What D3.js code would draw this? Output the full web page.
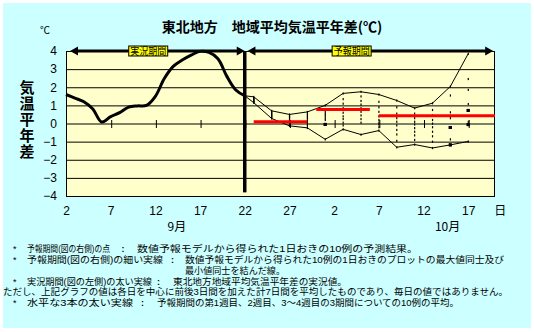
<!DOCTYPE html>
<html><head><meta charset="utf-8">
<script src="https://cdn.jsdelivr.net/npm/d3@7/dist/d3.min.js"></script>
<style>
html,body{margin:0;padding:0;background:#fff;}
svg{display:block;}
text{font-family:"Noto Sans CJK JP","Noto Sans",sans-serif;fill:#000;}
.note{font-family:"Liberation Sans","Noto Sans CJK JP",sans-serif;}
</style></head>
<body>
<script>
// ---------------- DATA ----------------
const title = "東北地方　地域平均気温平年差(℃)";
const yTitle = "気温平年差";
const yTicks = [4,3,2,1,0,-1,-2,-3,-4];
const dayTickIdx = [0,5,10,15,20,25,30,35,40,45];           // days since Sep 2
const dayLabels = ["2","7","12","17","22","27","2","7","12","17"];
const monthLabels = ["9月","10月"];
const obsDays = [0,1,2,3,4,5,6,7,8,9,10,11,12,13,14,15,16,17,18,19,20];
const obsValues = [1.6,1.4,1.2,0.8,0.08,0.38,0.6,0.9,0.97,1.0,1.5,2.48,3.15,3.5,3.77,3.98,3.92,3.57,2.6,1.85,1.53];
const fcDays = [21,23,25,27,29,31,33,35,37,39,41,43,45];
const fcMax = [1.47,0.7,0.5,0.64,1.0,1.66,1.75,1.6,1.27,0.85,1.12,2.04,3.85];
const fcMin = [1.15,0.28,-0.13,-0.24,-0.87,-0.32,-0.61,-0.39,-1.31,-1.16,-1.35,-1.18,-0.99];
const fcMembers = [
  [1.47,1.42,1.38,1.34,1.3,1.27,1.23,1.2,1.17,1.15],
  [0.7,0.64,0.6,0.55,0.5,0.46,0.42,0.37,0.32,0.28],
  [0.5,0.43,0.36,0.3,0.22,0.15,0.08,0.0,-0.06,-0.13],
  [0.64,0.55,0.46,0.37,0.28,0.18,0.08,-0.02,-0.12,-0.24],
  [1.0,0.72,0.62,0.52,0.42,0.3,0.2,-0.05,-0.05,-0.87],
  [1.66,1.35,1.1,0.85,0.6,0.4,0.25,0.05,-0.1,-0.32],
  [1.75,1.5,1.25,1.05,0.85,0.65,0.45,0.25,0.05,-0.61],
  [1.6,1.2,0.9,0.65,0.4,0.2,0.05,-0.05,-0.2,-0.39],
  [1.27,0.9,0.55,0.3,0.1,-0.1,-0.35,-0.6,-0.95,-1.31],
  [0.85,0.55,0.3,0.1,-0.05,-0.25,-0.45,-0.65,-0.9,-1.16],
  [1.12,0.75,0.45,0.2,0.0,-0.2,-0.45,-0.7,-1.0,-1.35],
  [2.04,1.55,0.62,0.3,-0.22,-0.22,-0.22,-0.87,-1.18,-1.18],
  [3.85,2.46,1.86,1.08,0.72,0.72,0.1,-0.06,-0.06,-0.99]
];
const weekStart = [21,28,35];
const weekEnd = [27,34,48];
const weekMean = [0.09,0.77,0.43];
const periodLabels = ["実況期間","予報期間"];
const notes = [
  ["*","予報期間(図の右側)の点",":","数値予報モデルから得られた1日おきの10例の予測結果。"],
  ["*","予報期間(図の右側)の細い実線",":","数値予報モデルから得られた10例の1日おきのプロットの最大値同士及び"],
  ["","","","最小値同士を結んだ線。"],
  ["*","実況期間(図の左側)の太い実線",":","東北地方地域平均気温平年差の実況値。"],
  ["","ただし、上記グラフの値は各日を中心に前後3日間を加えた計7日間を平均したものであり、毎日の値ではありません。","",""],
  ["*","水平な3本の太い実線",":","予報期間の第1週目、2週目、3～4週目の3期間についての10例の平均。"]
];

// ---------------- LAYOUT ----------------
const W = 534, H = 332;
const svg = d3.select("body").append("svg").attr("width", W).attr("height", H);
svg.append("rect").attr("x",3).attr("y",3).attr("width",528).attr("height",325).attr("fill","#CCFFFF");

const x = d3.scaleLinear().domain([0,48]).range([66,495]);
const y = d3.scaleLinear().domain([-4,4]).range([196,51]);

// plot area
svg.append("rect").attr("x",x(0)).attr("y",y(4)).attr("width",x(48)-x(0)).attr("height",y(-4)-y(4))
  .attr("fill","#FFFFCC");

// gridlines
svg.append("g").selectAll("line").data(yTicks).join("line")
  .attr("x1",x(0)).attr("x2",x(48)).attr("y1",d=>y(d)+0.5).attr("y2",d=>y(d)+0.5)
  .attr("stroke","#000").attr("stroke-width",1);
svg.append("rect").attr("x",x(0)+0.5).attr("y",y(4)+0.5).attr("width",x(48)-x(0)-1).attr("height",y(-4)-y(4))
  .attr("fill","none").attr("stroke","#000").attr("stroke-width",1);

// y tick labels
const yAxis = d3.axisLeft(y).tickValues(yTicks).tickSize(0).tickPadding(9).tickFormat(d3.format("d"));
const gy = svg.append("g").attr("transform",`translate(${x(0)},0)`).call(yAxis);
gy.select(".domain").remove();
gy.selectAll("text").style("font-size","12px").style("font-family","Liberation Sans, Arial, sans-serif");

// tick marks crossing the zero line
const tickAxis = d3.axisBottom(x).tickValues(dayTickIdx.slice(1)).tickSizeInner(8).tickSizeOuter(0).tickFormat("");
const gt = svg.append("g").attr("transform",`translate(0.5,${y(0)-3.5})`).call(tickAxis);
gt.select(".domain").remove();
gt.selectAll("line").attr("stroke","#000");

// x labels
const xAxis = d3.axisBottom(x).tickValues(dayTickIdx).tickSize(0).tickPadding(3).tickFormat((d,i)=>dayLabels[i]);
const gx = svg.append("g").attr("transform",`translate(0,203)`).call(xAxis);
gx.select(".domain").remove();
gx.selectAll("text").style("font-size","12px").style("font-family","Liberation Sans, Arial, sans-serif");
svg.append("text").attr("x",x(48.6)).attr("y",215).attr("text-anchor","middle").style("font-size","12px").text("日");
svg.selectAll(".month").data(monthLabels).join("text").attr("class","month")
  .attr("x",(d,i)=>x([12.4,42.7][i])).attr("y",230.5).attr("text-anchor","middle")
  .style("font-size","12px").text(d=>d);

// member dots
const counts = fcMembers.map(arr => d3.rollup(arr, v=>v.length, v=>v));
const dots = [];
fcMembers.forEach((arr,i)=>arr.forEach(v=>dots.push({d:fcDays[i], v, big: counts[i].get(v)>1})));
svg.append("g").selectAll("rect").data(dots).join("rect")
  .attr("x",p=>x(p.d)-(p.big?1.5:0.5)).attr("y",p=>y(p.v)-(p.big?1.5:1))
  .attr("width",p=>p.big?3:1.2).attr("height",p=>p.big?3:2.2).attr("fill","#000");

// thin max/min lines (start from last observation)
const last = obsValues[obsValues.length-1], lastDay = obsDays[obsDays.length-1];
const lineThin = d3.line().x(p=>x(p[0])).y(p=>y(p[1]));
[fcMax, fcMin].forEach(series=>{
  const pts = [[lastDay,last]].concat(fcDays.map((d,i)=>[d,series[i]]));
  svg.append("path").attr("d",lineThin(pts)).attr("fill","none").attr("stroke","#000").attr("stroke-width",1);
});

// weekly means
svg.append("g").selectAll("line").data(weekMean).join("line")
  .attr("x1",(d,i)=>x(weekStart[i])).attr("x2",(d,i)=>x(weekEnd[i]))
  .attr("y1",d=>y(d)).attr("y2",d=>y(d)).attr("stroke","#FF0000").attr("stroke-width",3);

// observed curve
const lineObs = d3.line().x((d,i)=>x(obsDays[i])).y(d=>y(d)).curve(d3.curveCatmullRom.alpha(0.5));
svg.append("path").attr("d",lineObs(obsValues)).attr("fill","none").attr("stroke","#000")
  .attr("stroke-width",3).attr("stroke-linejoin","round");

// boundary line
svg.append("line").attr("x1",x(20)).attr("x2",x(20)).attr("y1",y(4)).attr("y2",y(-3.8))
  .attr("stroke","#000").attr("stroke-width",3.5);

// period arrows
function arrow(a,b){
  const g = svg.append("g");
  const yy = y(4);
  g.append("line").attr("x1",x(a)+6).attr("x2",x(b)-6).attr("y1",yy).attr("y2",yy).attr("stroke","#000").attr("stroke-width",3);
  g.append("path").attr("d",`M${x(a)},${yy} l8,-4.5 l0,9 Z`).attr("fill","#000");
  g.append("path").attr("d",`M${x(b)},${yy} l-8,-4.5 l0,9 Z`).attr("fill","#000");
}
arrow(0.45,20);
arrow(20.3,47.8);
const boxes = svg.selectAll(".pbox").data(periodLabels).join("g").attr("class","pbox")
  .attr("transform",(d,i)=>`translate(${x([9.2,31.96][i])},${y(4)})`);
boxes.append("rect").attr("x",-19.5).attr("y",-5).attr("width",39).attr("height",10)
  .attr("fill","#FFFF00").attr("stroke","#000").attr("stroke-width",1);
boxes.append("text").attr("x",0).attr("y",3.8).attr("text-anchor","middle").style("font-size","10px")
  .attr("textLength",36).attr("lengthAdjust","spacingAndGlyphs").text(d=>d);

// titles
svg.append("text").attr("x",272).attr("y",32).attr("text-anchor","middle")
  .style("font-size","14px").style("font-weight","bold").text(title);
svg.append("text").attr("x",45).attr("y",34).attr("text-anchor","middle").style("font-size","10px").text("℃");
svg.append("text").attr("x",27).attr("y",79.5)
  .style("writing-mode","vertical-rl").style("text-orientation","upright")
  .style("font-size","15px").style("font-weight","bold").style("letter-spacing","1px")
  .text(yTitle);

// footnotes: one <text> per line, parts as tspans
const noteLayout = [
  {y:252, star:13, l:[27,83], c:121.5, r:[137,281]},
  {y:263, star:13, l:[27,136], c:171, r:[185,319]},
  {y:273.5, r:[185,100]},
  {y:284.5, star:13, l:[27,125], c:157, r:[173,174]},
  {y:295, l:[3,505]},
  {y:306, star:13, l:[27,106], c:141, r:[157,302]}
];
notes.forEach((n,i)=>{
  const L = noteLayout[i];
  const t = svg.append("text").attr("class","note").attr("y",L.y).style("font-size","9px");
  if(n[0]) t.append("tspan").attr("x",L.star).text(n[0]);
  if(n[1]) t.append("tspan").attr("x",L.l[0]).attr("textLength",L.l[1]).attr("lengthAdjust","spacingAndGlyphs").text(n[1]);
  if(n[2]) t.append("tspan").attr("x",L.c).style("font-weight","bold").text(n[2]);
  if(n[3]) t.append("tspan").attr("x",L.r[0]).attr("textLength",L.r[1]).attr("lengthAdjust","spacingAndGlyphs").text(n[3]);
});
</script>
</body></html>
